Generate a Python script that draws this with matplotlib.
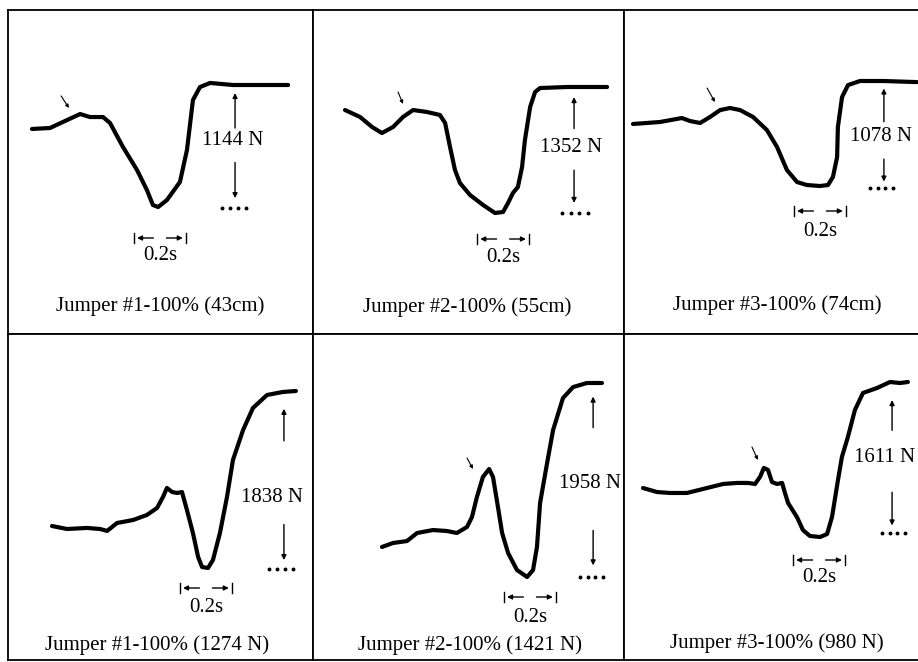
import numpy as np
import matplotlib.pyplot as plt

plt.rcParams['font.family'] = ['Liberation Serif', 'DejaVu Serif']

# traces: time (s) from start of trace, force (N) above the dotted level
t1 = [0.0, 0.069, 0.135, 0.185, 0.223, 0.273, 0.300, 0.350, 0.404, 0.442, 0.465, 0.485,
      0.519, 0.569, 0.596, 0.619, 0.646, 0.685, 0.773, 0.985]
f1 = [735, 744, 818, 874, 846, 846, 791, 567, 353, 167, 28, 9,
      74, 242, 539, 1004, 1125, 1163, 1144, 1144]

t2 = [0.0, 0.058, 0.104, 0.142, 0.185, 0.223, 0.262, 0.315, 0.365, 0.385, 0.404, 0.423,
      0.442, 0.481, 0.531, 0.577, 0.608, 0.627, 0.646, 0.665, 0.681, 0.692, 0.712, 0.731,
      0.750, 0.854, 1.008]
f2 = [1105, 1030, 923, 858, 923, 1030, 1105, 1084, 1052, 966, 708, 461,
      322, 193, 86, 0, 11, 107, 215, 279, 494, 783, 1137, 1298,
      1341, 1352, 1352]

t3 = [0.0, 0.104, 0.188, 0.219, 0.258, 0.296, 0.335, 0.373, 0.412, 0.462, 0.515, 0.554,
      0.592, 0.631, 0.669, 0.719, 0.750, 0.769, 0.785, 0.788, 0.804, 0.827, 0.873, 0.962,
      1.092]
f3 = [645, 665, 705, 675, 655, 715, 785, 806, 785, 715, 584, 413,
      181, 60, 30, 20, 30, 111, 312, 614, 916, 1037, 1078, 1078,
      1067]

t4 = [0.0, 0.058, 0.135, 0.185, 0.212, 0.250, 0.312, 0.365, 0.404, 0.427, 0.442, 0.462,
      0.481, 0.500, 0.519, 0.542, 0.562, 0.577, 0.600, 0.619, 0.646, 0.673, 0.696, 0.735,
      0.773, 0.827, 0.888, 0.938]
f4 = [444, 413, 424, 413, 393, 475, 506, 558, 630, 744, 837, 795,
      785, 795, 609, 372, 124, 21, 10, 93, 372, 744, 1126, 1436,
      1663, 1797, 1828, 1838]

t5 = [0.0, 0.042, 0.096, 0.135, 0.196, 0.250, 0.288, 0.327, 0.346, 0.365, 0.388, 0.412,
      0.427, 0.446, 0.462, 0.485, 0.519, 0.558, 0.581, 0.596, 0.608, 0.635, 0.658, 0.696,
      0.735, 0.788, 0.846]
f5 = [303, 343, 363, 444, 474, 464, 444, 505, 605, 807, 1009, 1090,
      1009, 706, 444, 242, 71, 0, 71, 303, 747, 1150, 1483, 1806,
      1917, 1958, 1958]

t6 = [0.0, 0.054, 0.104, 0.169, 0.246, 0.308, 0.362, 0.404, 0.431, 0.450, 0.465, 0.481,
      0.496, 0.515, 0.535, 0.546, 0.558, 0.592, 0.615, 0.642, 0.681, 0.708, 0.727, 0.750,
      0.765, 0.788, 0.815, 0.846, 0.900, 0.950, 0.988, 1.019]
f6 = [480, 437, 427, 427, 480, 523, 534, 534, 523, 598, 694, 672,
      544, 523, 534, 427, 320, 171, 32, -32, -43, -11, 171, 566,
      811, 1024, 1312, 1494, 1547, 1611, 1600, 1611]

peaks = [1144, 1352, 1078, 1838, 1958, 1611]
titles = ['Jumper #1-100% (43cm)', 'Jumper #2-100% (55cm)', 'Jumper #3-100% (74cm)',
          'Jumper #1-100% (1274 N)', 'Jumper #2-100% (1421 N)', 'Jumper #3-100% (980 N)']
traces = [(t1, f1), (t2, f2), (t3, f3), (t4, f4), (t5, f5), (t6, f6)]

# layout (pixels of the 918x662 figure)
W, H = 918, 662
PPS = 260  # px per second
cells = [(8, 10, 313, 334), (313, 10, 624, 334), (624, 10, 918, 334),
         (8, 334, 313, 660), (313, 334, 624, 660), (624, 334, 918, 660)]
origins = [(32, 208), (345, 213), (633, 188), (52, 569), (382, 577), (643, 533)]
span_px = [123, 126, 107, 178, 194, 151]
# force arrow: (arrow t, text t, head, tail, text, down start, down end) as fraction of peak
farrow = [(0.781, 0.773, 0.935, 0.65, 0.55, 0.37, 0.08),
          (0.881, 0.870, 0.92, 0.67, 0.52, 0.34, 0.08),
          (0.965, 0.954, 0.93, 0.62, 0.48, 0.27, 0.06),
          (0.892, 0.846, 0.90, 0.72, 0.40, 0.25, 0.05),
          (0.812, 0.800, 0.93, 0.77, 0.48, 0.24, 0.06),
          (0.958, 0.931, 0.88, 0.68, 0.50, 0.27, 0.05)]
dots = [(0.731, 0.823), (0.835, 0.935), (0.912, 1.0), (0.835, 0.927), (0.762, 0.85), (0.919, 1.008)]
# time bar: start t, bar px below dotted level, text px below
tbar = [(0.392, 30, 48), (0.508, 26, 45), (0.619, 23, 44), (0.492, 19, 38), (0.469, 20, 40), (0.577, 27, 45)]
pointers = [((0.112, 1042), (0.142, 930)), ((0.204, 1298), (0.223, 1170)),
            ((0.285, 1007), (0.315, 866)), None,
            ((0.327, 1201), (0.350, 1090)), ((0.419, 918), (0.442, 779))]
title_pos = [(0.498, 0.086), (0.495, 0.083), (0.52, 0.089),
             (0.49, 0.046), (0.505, 0.046), (0.52, 0.052)]

fig = plt.figure(figsize=(W / 100, H / 100), dpi=100)
fs = 15
arr = dict(arrowstyle='-|>', color='k', lw=1.0, mutation_scale=7, shrinkA=0, shrinkB=0)

for i in range(6):
    cx0, cy0, cx1, cy1 = cells[i]
    ox, oy = origins[i]
    npp = peaks[i] / span_px[i]
    ax = fig.add_axes([cx0 / W, 1 - cy1 / H, (cx1 - cx0) / W, (cy1 - cy0) / H])
    ax.set_xlim((cx0 - ox) / PPS, (cx1 - ox) / PPS)
    ax.set_ylim((oy - cy1) * npp, (oy - cy0) * npp)
    ax.set_xticks([])
    ax.set_yticks([])
    for s in ax.spines.values():
        s.set_linewidth(1.3)
    if i in (2, 5):
        ax.spines['right'].set_visible(False)

    t, f = traces[i]
    ax.plot(t, f, color='k', lw=3.0, solid_capstyle='round', solid_joinstyle='round', clip_on=False)

    pk = peaks[i]
    ta, tx, hd, tl, tt, d0, d1 = farrow[i]
    ax.annotate('', xy=(ta, hd * pk), xytext=(ta, tl * pk), arrowprops=arr)
    ax.text(tx, tt * pk, f'{pk} N', ha='center', va='center', fontsize=fs)
    ax.annotate('', xy=(ta, d1 * pk), xytext=(ta, d0 * pk), arrowprops=arr)
    ax.plot(np.linspace(dots[i][0], dots[i][1], 4), [0] * 4, ls='none', marker='o',
            ms=1.8, color='k')

    tb, bdy, tdy = tbar[i]
    yb = -bdy * npp
    hh = 5 * npp
    ax.plot([tb, tb], [yb - hh, yb + hh], color='k', lw=1.0)
    ax.plot([tb + 0.2, tb + 0.2], [yb - hh, yb + hh], color='k', lw=1.0)
    ax.annotate('', xy=(tb + 0.012, yb), xytext=(tb + 0.075, yb), arrowprops=arr)
    ax.annotate('', xy=(tb + 0.188, yb), xytext=(tb + 0.125, yb), arrowprops=arr)
    ax.text(tb + 0.1, -tdy * npp, '0.2s', ha='center', va='center', fontsize=fs)

    if pointers[i] is not None:
        p0, p1 = pointers[i]
        ax.annotate('', xy=p1, xytext=p0,
                    arrowprops=dict(arrowstyle='-|>', color='k', lw=0.8, mutation_scale=5,
                                    shrinkA=0, shrinkB=0))

    ax.text(title_pos[i][0], title_pos[i][1], titles[i], transform=ax.transAxes,
            ha='center', va='center', fontsize=fs)

fig.savefig('out.png', dpi=100)
